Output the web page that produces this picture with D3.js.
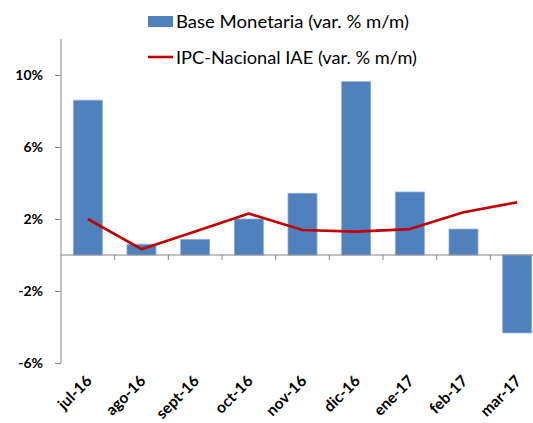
<!DOCTYPE html>
<html><head><meta charset="utf-8">
<script src="https://cdn.jsdelivr.net/npm/d3@7"></script>
<style>body{margin:0;background:#fff}svg{display:block}</style>
</head><body>
<script>
const categories = ["jul-16","ago-16","sept-16","oct-16","nov-16","dic-16","ene-17","feb-17","mar-17"];
const baseMonetaria = [8.6, 0.6, 0.87, 2.0, 3.43, 9.63, 3.5, 1.44, -4.33];
const ipcNacional = [2.0, 0.32, 1.3, 2.3, 1.39, 1.3, 1.44, 2.37, 2.93];
const yTicks = [-6, -2, 2, 6, 10];
const seriesNames = ["Base Monetaria (var. % m/m)", "IPC-Nacional IAE (var. % m/m)"];

const W = 533, H = 423;
const font = "Lato, 'Open Sans', sans-serif";
const svg = d3.select("body").append("svg").attr("width", W).attr("height", H);

const xb = d3.scaleBand().domain(categories).range([61, 544]);
const y = d3.scaleLinear().domain([-6, 12]).range([363, 39]);
const axisColor = "#868686";

// bars
svg.append("g").selectAll("rect").data(categories).join("rect")
  .attr("x", (d) => xb(d) + xb.bandwidth()/2 - 14.5)
  .attr("width", 29)
  .attr("y", (d, i) => y(Math.max(0, baseMonetaria[i])))
  .attr("height", (d, i) => Math.abs(y(baseMonetaria[i]) - y(0)))
  .attr("fill", "#4F81BD")
  .attr("stroke", "#8EAADB").attr("stroke-width", 0.8);

// y axis
const yAxis = svg.append("g").attr("transform", "translate(61,0)")
  .call(d3.axisLeft(y).tickValues(yTicks).tickSize(6).tickFormat(d => d + "%"));
yAxis.select(".domain").attr("stroke", axisColor).attr("d", `M0,${y(12)}V${y(-6)}`);
yAxis.selectAll(".tick line").attr("stroke", axisColor);
yAxis.selectAll(".tick text").attr("x", -18).attr("font-family", font).attr("font-weight", "bold")
  .attr("font-size", 14).attr("fill", "#000");

// x axis at zero
const xg = svg.append("g").attr("transform", `translate(0,${y(0)})`);
xg.append("line").attr("x1", 61).attr("x2", W).attr("stroke", axisColor).attr("stroke-width", 1.2);
xg.selectAll("line.t").data(categories.slice(1)).join("line").attr("class", "t")
  .attr("x1", d => xb(d)).attr("x2", d => xb(d)).attr("y1", 0).attr("y2", 5)
  .attr("stroke", axisColor);

// x labels
svg.append("g").selectAll("text").data(categories).join("text")
  .attr("transform", d => `translate(${xb(d) + xb.bandwidth()/2 + 5},382) rotate(-45)`)
  .attr("text-anchor", "end")
  .attr("font-family", font).attr("font-weight", "bold").attr("font-size", 15.5)
  .text(d => d);

// line
const line = d3.line().x((d, i) => xb(categories[i]) + xb.bandwidth()/2).y(d => y(d));
svg.append("path").datum(ipcNacional).attr("d", line)
  .attr("fill", "none").attr("stroke", "#C00000").attr("stroke-width", 2.6)
  .attr("stroke-linejoin", "round");

// legend
const lg = svg.append("g");
lg.append("rect").attr("x", 148).attr("y", 16).attr("width", 25).attr("height", 11).attr("fill", "#4F81BD");
lg.append("text").attr("x", 176).attr("y", 28).attr("font-family", font).attr("font-size", 17)
  .attr("textLength", 233).attr("lengthAdjust", "spacingAndGlyphs")
  .text(seriesNames[0]);
lg.append("line").attr("x1", 148).attr("x2", 173).attr("y1", 57).attr("y2", 57)
  .attr("stroke", "#C00000").attr("stroke-width", 2.6);
lg.append("text").attr("x", 176).attr("y", 64).attr("font-family", font).attr("font-size", 17)
  .attr("textLength", 241).attr("lengthAdjust", "spacingAndGlyphs")
  .text(seriesNames[1]);
</script>
</body></html>
